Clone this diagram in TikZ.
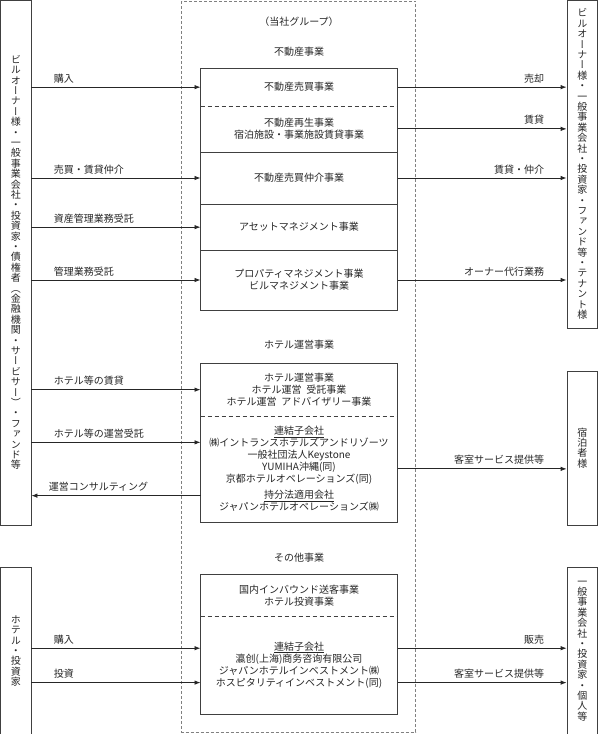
\documentclass[tikz,border=0pt]{standalone}
\usepackage{fontspec}
\setmainfont{Noto Sans CJK JP}
\newfontfamily\tatefont[RawFeature=+vert]{Noto Sans CJK JP}
\usetikzlibrary{arrows.meta}

% vertical text: one character per line
\def\tatestop{}
\def\tateloop#1{\ifx\tatestop#1\else\hbox to 10pt{\hss#1\hss}\expandafter\tateloop\fi}
\newcommand\tate[1]{\vbox{\tatefont\baselineskip=10.4pt\tateloop#1\tatestop}}

\begin{document}
\begin{tikzpicture}[x=1pt, y=-1pt,
	every node/.style={text=black!85},
	box/.style={draw=black!75, line width=0.8pt, inner sep=0pt},
	part/.style={minimum width=196.6pt, inner sep=0pt, align=center, font=\fontsize{10}{12}\selectfont},
	head/.style={inner sep=0pt, font=\fontsize{10}{12}\selectfont},
	div/.style={draw=black!75, line width=0.8pt, dash pattern=on 4pt off 3pt},
	arr/.style={draw=black!85, line width=0.8pt, -{Latex[length=6pt,width=4.5pt]}},
	llbl/.style={anchor=base west, xshift=22pt, yshift=5pt, inner sep=0pt, font=\fontsize{10}{12}\selectfont},
	rlbl/.style={anchor=base east, xshift=-22pt, yshift=5pt, inner sep=0pt, font=\fontsize{10}{12}\selectfont}]
	\useasboundingbox (0,0) rectangle (598,734);
	% outside
	\node[box, minimum width=30.5pt, minimum height=525pt] (lb1) at (15.75,262.5)
		{\tate{ビルオーナー様・一般事業会社・投資家・債権者（金融機関・サービサー）・ファンド等}};
	\node[box, minimum width=30.5pt, minimum height=168pt] (lb2) at (15.75,651) {\tate{ホテル・投資家}};
	\node[box, minimum width=30.5pt, minimum height=328pt] (rb1) at (582.25,164)
		{\tate{ビルオーナー様・一般事業会社・投資家・ファンド等・テナント様}};
	\node[box, minimum width=30.5pt, minimum height=154pt] (rb2) at (582.25,448) {\tate{宿泊者様}};
	\node[box, minimum width=30.5pt, minimum height=168pt] (rb3) at (582.25,651) {\tate{一般事業会社・投資家・個人等}};
	% group
	\draw[black!50, line width=0.8pt, dash pattern=on 3pt off 2pt] (181.7,1) rectangle (415.7,732);
	\node[head] (grp) at (299,21.7) {（当社グループ）};
	\node[head] (re) at (299,51.7) {不動産事業};
	\node[head] (ht) at (299,345) {ホテル運営事業};
	\node[head] (ot) at (299,558) {その他事業};
	% real estate
	\node[part, minimum height=37.7pt] (sa) at (299,87.15) {不動産売買事業};
	\node[part, minimum height=45.7pt] (sb) at (299,128.85) {不動産再生事業\\宿泊施設・事業施設賃貸事業};
	\node[part, minimum height=52.6pt] (sc) at (299,178) {不動産売買仲介事業};
	\node[part, minimum height=45.7pt] (sd) at (299,227.15) {アセットマネジメント事業};
	\node[part, minimum height=60pt] (se) at (299,280) {プロパティマネジメント事業\\ビルマネジメント事業};
	\draw[box] (sa.north west) rectangle (se.south east);
	\draw[div] (sa.south west) -- (sa.south east);
	\draw[box] (sb.south west) -- (sb.south east);
	\draw[box] (sc.south west) -- (sc.south east);
	\draw[box] (sd.south west) -- (sd.south east);
	% hotel
	\node[part, minimum height=52.7pt] (ha) at (299,389.65)
		{ホテル運営事業\\ホテル運営\hspace{0.5em}受託事業\\ホテル運営\hspace{0.5em}アドバイザリー事業};
	\node[part, minimum height=105.7pt] (hb) at (299,468.85)
		{\underline{連結子会社}\\㈱イントランスホテルズアンドリゾーツ\\一般社団法人Keystone\\YUMIHA沖縄(同)\\京都ホテルオペレーションズ(同)\\[4pt]\underline{持分法適用会社}\\ジャパンホテルオペレーションズ㈱};
	\draw[box] (ha.north west) rectangle (hb.south east);
	\draw[div] (ha.south west) -- (ha.south east);
	% other
	\node[part, minimum height=41.5pt] (oa) at (299,595.75) {国内インバウンド送客事業\\ホテル投資事業};
	\node[part, minimum height=98pt] (ob) at (299,665)
		{\underline{連結子会社}\\瀛创(上海)商务咨询有限公司\\ジャパンホテルインベストメント㈱\\ホスピタリティインベストメント(同)};
	\draw[box] (oa.north west) rectangle (ob.south east);
	\draw[div] (oa.south west) -- (oa.south east);
	\coordinate (hbin) at ([yshift=26.5pt]hb.west);
	\coordinate (hbout) at ([yshift=-26.8pt]hb.west);
	\coordinate (obin1) at ([yshift=16.8pt]ob.west);
	\coordinate (obin2) at ([yshift=-17.6pt]ob.west);
	\coordinate (obout1) at ([yshift=16.8pt]ob.east);
	\coordinate (obout2) at ([yshift=-17.6pt]ob.east);
	% connections
	\draw[arr] (lb1.east |- sa.west) node[llbl] {購入} -- (sa.west);
	\draw[arr] (lb1.east |- sc.west) node[llbl] {売買・賃貸仲介} -- (sc.west);
	\draw[arr] (lb1.east |- sd.west) node[llbl] {資産管理業務受託} -- (sd.west);
	\draw[arr] (lb1.east |- se.west) node[llbl] {管理業務受託} -- (se.west);
	\draw[arr] (sa.east) -- (rb1.west |- sa.east) node[rlbl] {売却};
	\draw[arr] (sb.east) -- (rb1.west |- sb.east) node[rlbl] {賃貸};
	\draw[arr] (sc.east) -- (rb1.west |- sc.east) node[rlbl] {賃貸・仲介};
	\draw[arr] (se.east) -- (rb1.west |- se.east) node[rlbl] {オーナー代行業務};
	\draw[arr] (lb1.east |- ha.west) node[llbl] {ホテル等の賃貸} -- (ha.west);
	\draw[arr] (lb1.east |- hbin) node[llbl] {ホテル等の運営受託} -- (hbin);
	\draw[arr] (hbout) -- (lb1.east |- hbout) node[llbl, xshift=-5pt] {運営コンサルティング};
	\draw[arr] (hb.east) -- (rb2.west |- hb.east) node[rlbl] {客室サービス提供等};
	\draw[arr] (lb2.east |- obin1) node[llbl] {購入} -- (obin1);
	\draw[arr] (lb2.east |- obin2) node[llbl] {投資} -- (obin2);
	\draw[arr] (obout1) -- (rb3.west |- obout1) node[rlbl] {販売};
	\draw[arr] (obout2) -- (rb3.west |- obout2) node[rlbl] {客室サービス提供等};
\end{tikzpicture}
\end{document}
